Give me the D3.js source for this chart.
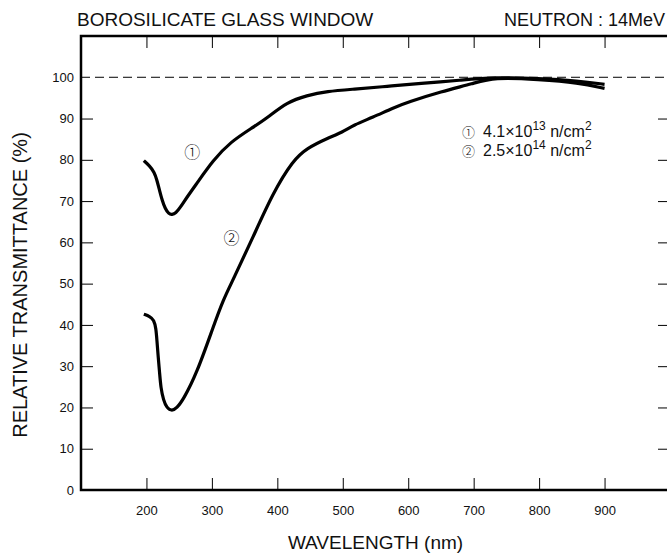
<!DOCTYPE html>
<html>
<head>
<meta charset="utf-8">
<script src="https://cdn.jsdelivr.net/npm/d3@7"></script>
<style>
html,body{margin:0;padding:0;background:#fff;}
svg{display:block;}
text{font-family:"Liberation Sans",Arial,Helvetica,sans-serif;fill:#111;}
.circ{font-family:"Noto Sans CJK JP","DejaVu Sans",sans-serif;}
</style>
</head>
<body>
<svg id="chart" width="667" height="557"></svg>
<script>
const xTicks = [200, 300, 400, 500, 600, 700, 800, 900];
const yTicks = [0, 10, 20, 30, 40, 50, 60, 70, 80, 90, 100];

const curve1X = [196, 205, 212, 216, 220, 224, 228.5, 234, 239, 245, 251, 263, 277, 302, 328, 363, 384, 415, 445, 476, 516, 568, 618, 680, 730, 800, 860, 900];
const curve1Y = [79.8, 78.5, 77, 75.1, 72.6, 70.2, 68.2, 66.9, 66.7, 67.1, 68.3, 71.2, 74.3, 79.9, 84.3, 87.9, 90.1, 94, 95.6, 96.6, 97.1, 97.8, 98.5, 99.3, 100, 99.7, 99.1, 98.3];

const curve2X = [196, 205, 211.5, 214.5, 216, 217.7, 220, 222, 226, 231, 239, 246.5, 256, 277, 302, 317, 332, 363, 393, 424, 445, 476, 500, 516, 546, 577, 600, 650, 700, 730, 800, 860, 900];
const curve2Y = [42.6, 42.1, 41.2, 39.2, 36.3, 32.7, 28.6, 24.7, 21.8, 19.9, 19.1, 19.9, 21.8, 28.3, 39.5, 46, 50.8, 61.3, 71.9, 79.9, 82.8, 85.2, 86.7, 88.4, 90.3, 92.6, 94, 96.5, 98.5, 100, 99.5, 98.7, 97.3];

const title = "BOROSILICATE GLASS WINDOW";
const subtitle = "NEUTRON : 14MeV";
const xTitle = "WAVELENGTH (nm)";
const yTitle = "RELATIVE TRANSMITTANCE (%)";
const legendMarks = ["\u2460", "\u2461"];
const legendBase = ["4.1\u00D710", "2.5\u00D710"];
const legendExp = ["13", "14"];

const svg = d3.select("#chart");
const L = 81, R = 670, T = 36, B = 490;
const x = d3.scaleLinear().domain([100, 1000]).range([L, R]);
const y = d3.scaleLinear().domain([0, 110]).range([B, T]);

// Frame
svg.append("rect").attr("x", L).attr("y", T).attr("width", R - L).attr("height", B - T)
  .attr("fill", "none").attr("stroke", "#000").attr("stroke-width", 2.5);

const tickStyle = g => { g.select(".domain").remove(); g.selectAll("line").attr("stroke", "#000").attr("stroke-width", 1); };
const labelStyle = g => g.selectAll("text").attr("font-size", 13).attr("font-family", "Liberation Sans, Arial, sans-serif").attr("fill", "#111");
svg.append("g").attr("transform", `translate(0,${B})`)
  .call(d3.axisBottom(x).tickValues(xTicks).tickSize(-12).tickPadding(16).tickFormat(d3.format("d")))
  .call(tickStyle).call(labelStyle);
svg.append("g").attr("transform", `translate(0,${T})`)
  .call(d3.axisTop(x).tickValues(xTicks).tickSize(-12).tickFormat(""))
  .call(tickStyle);
svg.append("g").attr("transform", `translate(${L},0)`)
  .call(d3.axisLeft(y).tickValues(yTicks.filter(v => v !== 100 && v !== 0)).tickSize(-12).tickFormat(""))
  .call(tickStyle);
svg.append("g").attr("transform", `translate(${L},0)`)
  .call(d3.axisLeft(y).tickValues(yTicks).tickSize(0).tickPadding(7).tickFormat(d3.format("d")))
  .call(g => g.select(".domain").remove()).call(labelStyle);
svg.append("g").attr("transform", `translate(${R},0)`)
  .call(d3.axisRight(y).tickValues(yTicks.filter(v => v !== 100 && v !== 0)).tickSize(-12).tickFormat(""))
  .call(tickStyle);

// Dashed 100% line
svg.append("line").attr("x1", L).attr("x2", R).attr("y1", y(100)).attr("y2", y(100))
  .attr("stroke", "#000").attr("stroke-width", 1).attr("stroke-dasharray", "9,5");

// Curves
const line = d3.line().x(d => x(d[0])).y(d => y(d[1])).curve(d3.curveBasis);
[[curve1X, curve1Y], [curve2X, curve2Y]].forEach(([xs, ys]) => {
  svg.append("path").datum(xs.map((v, i) => [v, ys[i]]))
    .attr("d", line).attr("fill", "none").attr("stroke", "#000")
    .attr("stroke-width", 3.2).attr("stroke-linejoin", "round").attr("stroke-linecap", "butt");
});

// Curve labels
svg.append("text").attr("class", "circ").attr("x", x(270)).attr("y", y(80.5)).attr("text-anchor", "middle")
  .attr("font-size", 16).attr("font-weight", 300).text(legendMarks[0]);
svg.append("text").attr("class", "circ").attr("x", x(330)).attr("y", y(59.5)).attr("text-anchor", "middle")
  .attr("font-size", 16).attr("font-weight", 300).text(legendMarks[1]);

// Titles
svg.append("text").attr("x", 77).attr("y", 26).attr("font-size", 19).text(title);
svg.append("text").attr("x", 665).attr("y", 26).attr("font-size", 18).attr("text-anchor", "end").text(subtitle);
svg.append("text").attr("x", (L + R) / 2).attr("y", 549).attr("font-size", 19).attr("text-anchor", "middle").text(xTitle);
svg.append("text").attr("transform", `translate(27,285) rotate(-90)`).attr("font-size", 20)
  .attr("text-anchor", "middle").text(yTitle);

// Legend
[0, 1].forEach(i => {
  const yy = 137 + i * 19;
  svg.append("text").attr("class", "circ").attr("x", 462).attr("y", yy).attr("font-size", 13).attr("font-weight", 300).text(legendMarks[i]);
  const t = svg.append("text").attr("x", 483).attr("y", yy).attr("font-size", 16);
  t.append("tspan").text(legendBase[i]);
  t.append("tspan").attr("dy", -7).attr("font-size", 12).text(legendExp[i]);
  t.append("tspan").attr("dy", 7).text(" n/cm");
  t.append("tspan").attr("dy", -7).attr("font-size", 12).text("2");
});
</script>
</body>
</html>
